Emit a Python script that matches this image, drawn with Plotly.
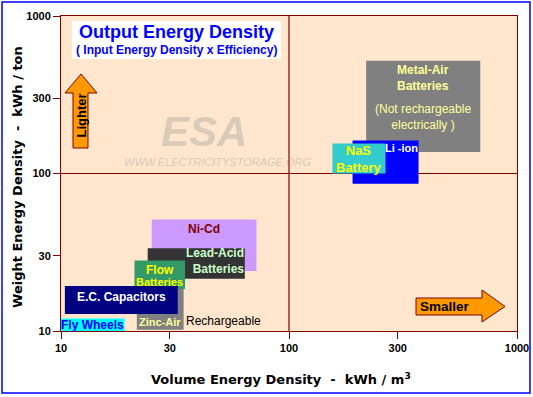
import numpy as np
import plotly.graph_objects as go

# ---------------- data ----------------
techs = ["Metal-Air", "Li-ion", "NaS", "Ni-Cd", "Lead-Acid", "Flow",
         "Zinc-Air", "E.C. Capacitors", "Fly Wheels"]
vol_min = [218, 190, 155, 25, 24, 21, 21.5, 10.4, 10]      # kWh / m3
vol_max = [690, 370, 265, 72, 64, 35, 34.5, 32.5, 19]
wt_min = [137, 86, 100, 24, 21.5, 18.5, 10.2, 12.8, 10]    # kWh / ton
wt_max = [520, 162, 155, 51, 33.5, 28, 18.5, 19.3, 12]
box_colors = ["#808080", "#0000FF", "#33CCCC", "#CC99FF", "#333333",
              "#339966", "#808080", "#000080", "#00FFFF"]

tick_vals = [10, 30, 100, 300, 1000]
tick_text = ["10", "30", "100", "300", "1000"]
ref_value = 100

# ---------------- layout helpers ----------------
W_PX, H_PX = 533, 397
L, T, PW, PH = 61, 16, 456, 315
FONT = "Liberation Sans, Arial, sans-serif"
DARKRED = "#800000"


def fx(px):
    return (px - L) / PW


def fy(py):
    return (T + PH - py) / PH


def path(points):
    s = "M " + " L ".join(f"{fx(a):.5f},{fy(b):.5f}" for a, b in points)
    return s + " Z"


fig = go.Figure()

# reference lines at 100
fig.add_trace(go.Scatter(x=[ref_value, ref_value], y=[tick_vals[0], tick_vals[-1]],
                         mode="lines", line=dict(color=DARKRED, width=1.2),
                         hoverinfo="skip"))
fig.add_trace(go.Scatter(x=[tick_vals[0], tick_vals[-1]], y=[ref_value, ref_value],
                         mode="lines", line=dict(color=DARKRED, width=1.2),
                         hoverinfo="skip"))

# technology boxes
for i, name in enumerate(techs):
    x0, x1, y0, y1 = vol_min[i], vol_max[i], wt_min[i], wt_max[i]
    fig.add_trace(go.Scatter(x=[x0, x1, x1, x0, x0], y=[y0, y0, y1, y1, y0],
                             fill="toself", fillcolor=box_colors[i], mode="lines",
                             line=dict(width=0, color=box_colors[i]),
                             name=name, hoverinfo="skip"))


def box_pos(i, where):
    lx0, lx1 = np.log10(vol_min[i]), np.log10(vol_max[i])
    ly0, ly1 = np.log10(wt_min[i]), np.log10(wt_max[i])
    cx, cy = (lx0 + lx1) / 2, (ly0 + ly1) / 2
    return {"center": (cx, cy, "center", "middle"),
            "top": (cx, ly1, "center", "top"),
            "bottom": (cx, ly0, "center", "bottom"),
            "topright": (lx1, ly1, "right", "top"),
            "right": (lx1, cy, "right", "middle"),
            "rightout": (lx1, ly0, "left", "bottom")}[where]


labels = [
    # (box index, text, color, size, position, xshift, yshift, align)
    (0, "<b>Metal-Air<br>Batteries</b>", "#FFFF99", 12, "top", 0, 0, "center"),
    (0, "(Not rechargeable<br>electrically )", "#FFFF99", 12, "center", 0, -11, "center"),
    (1, "<b>Li -ion</b>", "white", 11, "topright", 1, 1, "right"),
    (2, "<b>NaS<br>Battery</b>", "#FFFF00", 13, "center", 0, 0, "center"),
    (3, "<b>Ni-Cd</b>", DARKRED, 12, "top", 0, 0, "center"),
    (4, "<b>Lead-Acid<br>Batteries</b>", "#CCFFCC", 12, "right", 1, 2, "right"),
    (5, "<b>Flow</b>", "#FFFF00", 12, "top", 0, 0, "center"),
    (5, "<b>Batteries</b>", "#FFFF00", 11, "bottom", 0, -1, "center"),
    (6, "<b>Zinc-Air</b>", "#FFFF99", 11, "bottom", 0, 0, "center"),
    (7, "<b>E.C. Capacitors</b>", "white", 12, "center", 0, 3, "center"),
    (8, "<b>Fly Wheels</b>", "#0000FF", 12, "center", 0, 0, "center"),
    (6, "Rechargeable", "black", 12, "rightout", 0, 0, "left"),
]

annotations = []
for i, text, color, size, where, xs, ys, align in labels:
    x, y, xa, ya = box_pos(i, where)
    annotations.append(dict(x=x, y=y, xref="x", yref="y", text=text, showarrow=False,
                            xanchor=xa, yanchor=ya, xshift=xs, yshift=ys, align=align,
                            font=dict(family=FONT, size=size, color=color)))


def paper_text(px, py, text, size, color, family=FONT, angle=0, xanchor="center"):
    return dict(x=fx(px), y=fy(py), xref="paper", yref="paper", text=text,
                textangle=angle, showarrow=False, xanchor=xanchor, yanchor="middle",
                font=dict(family=family, size=size, color=color))


# watermark
annotations.append(paper_text(204, 131, "<b><i>ESA</i></b>", 42, "rgba(150,150,150,0.35)"))
annotations.append(paper_text(217, 162, "<i>WWW.ELECTRICITYSTORAGE.ORG</i>", 11,
                              "rgba(150,150,150,0.4)"))
# title
annotations.append(paper_text(176.5, 32, "<b>Output Energy Density</b>", 18, "#0000FF"))
annotations.append(paper_text(176.5, 50, "<b>( Input Energy Density x Efficiency)</b>", 12,
                              "#0000FF"))
# arrow texts
annotations.append(paper_text(81, 115.5, "<b>Lighter</b>", 13, "black", angle=-90))
annotations.append(paper_text(418, 306.5, "<b>Smaller</b>", 13.5, "black", xanchor="left"))
# axis titles
TFONT = "DejaVu Sans, Verdana, sans-serif"
annotations.append(paper_text(17, 177, "<b>Weight Energy Density  -  kWh / ton</b>", 13,
                              "black", family=TFONT, angle=-90))
annotations.append(paper_text(281, 379, "<b>Volume Energy Density  -  kWh / m<sup>3</sup></b>",
                              13, "black", family=TFONT))

shapes = [
    # outer blue frame
    dict(type="rect", xref="paper", yref="paper", x0=fx(2), x1=fx(530), y0=fy(393), y1=fy(2),
         line=dict(color="#0000FF", width=1.5), fillcolor="rgba(0,0,0,0)", layer="above"),
    # title box
    dict(type="rect", xref="paper", yref="paper", x0=fx(72), x1=fx(281), y0=fy(59), y1=fy(21),
         line=dict(width=0), fillcolor="white", layer="above"),
    # Lighter arrow
    dict(type="path", xref="paper", yref="paper",
         path=path([(73, 148), (73, 93), (65, 93), (81, 74), (97, 93), (88, 93), (88, 148)]),
         fillcolor="#FF9900", line=dict(color=DARKRED, width=1), layer="above"),
    # Smaller arrow
    dict(type="path", xref="paper", yref="paper",
         path=path([(416, 298), (482, 298), (482, 290), (505, 306.5), (482, 322),
                    (482, 315), (416, 315)]),
         fillcolor="#FF9900", line=dict(color=DARKRED, width=1), layer="above"),
]

axis_common = dict(type="log", range=[1, 3], tickvals=tick_vals, ticktext=tick_text,
                   ticks="outside", ticklen=7, tickwidth=1, tickcolor=DARKRED,
                   showgrid=False, zeroline=False, showline=True, linecolor=DARKRED,
                   linewidth=1, mirror=True, automargin=False,
                   tickfont=dict(family=FONT, size=11, color="black", weight="bold"))

fig.update_layout(
    width=W_PX, height=H_PX,
    margin=dict(l=L, r=W_PX - L - PW, t=T, b=H_PX - T - PH, pad=0),
    paper_bgcolor="white", plot_bgcolor="#FFE6CC",
    showlegend=False,
    xaxis=axis_common, yaxis=dict(axis_common),
    annotations=annotations, shapes=shapes,
)

fig.write_html("out.html", config={"displayModeBar": False},
               post_script="document.body.style.margin='0px';")
